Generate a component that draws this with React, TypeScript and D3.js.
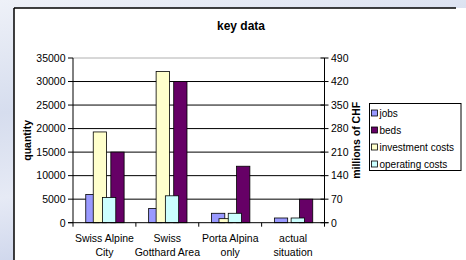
import React from 'react'
import * as d3 from 'd3'

const categories = [['Swiss Alpine', 'City'], ['Swiss', 'Gotthard Area'], ['Porta Alpina', 'only'], ['actual', 'situation']]
const jobs = [6000, 3000, 2000, 1000]
const beds = [15000, 30000, 12000, 5000]
const investmentCosts = [270, 450, 12, 0]
const operatingCosts = [75, 80, 28, 14]
const leftTicks = [0, 5000, 10000, 15000, 20000, 25000, 30000, 35000]
const rightTicks = [0, 70, 140, 210, 280, 350, 420, 490]

const W = 466
const H = 260
const font = '"Liberation Sans", Arial, sans-serif'

const App: React.FC = () => {
  const plot = { left: 73, right: 324.5, top: 58, bottom: 222.7 }
  const keys = categories.map(c => c.join(' '))

  const x = d3.scaleBand().domain(keys).range([plot.left, plot.right]).padding(0)
  const yL = d3.scaleLinear().domain([0, 35000]).range([plot.bottom, plot.top])
  const yR = d3.scaleLinear().domain([0, 490]).range([plot.bottom, plot.top])
  const bw = x.bandwidth()

  // offsets inside a category, as fractions of the band
  const primary = d3.scaleBand().domain(['jobs', 'beds']).range([bw * 0.203, bw * 0.813]).paddingInner(0.47)
  const barW = primary.bandwidth()
  const secOffset = { investment: bw * 0.322, operating: bw * 0.469 }

  const series = [
    { name: 'jobs', color: '#9999FF' },
    { name: 'beds', color: '#660066' },
    { name: 'investment costs', color: '#FFFFCC' },
    { name: 'operating costs', color: '#CCFFFF' },
  ]

  return (
    <svg width={W} height={H} style={{ position: 'absolute', left: 0, top: 0 }} fontFamily={font}>
      <defs>
        <linearGradient id="bg" x1="0" y1="0" x2="0.3" y2="1">
          <stop offset="0" stopColor="#eef1f8" />
          <stop offset="0.4" stopColor="#d6ddee" />
          <stop offset="0.7" stopColor="#e6eaf5" />
          <stop offset="1" stopColor="#c9d2ea" />
        </linearGradient>
      </defs>
      <rect x={0} y={0} width={W} height={H} fill="url(#bg)" />
      <rect x={14} y={8} width={W - 14} height={H - 8} fill="#fff" />
      <line x1={14} y1={8} x2={456} y2={8} stroke="#000" strokeWidth={1.5} />
      <line x1={14} y1={8} x2={14} y2={H} stroke="#000" strokeWidth={1.5} />

      <text x={241} y={30} textAnchor="middle" fontSize={12} fontWeight="bold">key data</text>

      {leftTicks.slice(1).map(t => (
        <line key={t} x1={plot.left} x2={plot.right} y1={yL(t)} y2={yL(t)}
          stroke={t === 35000 ? '#b0b0b0' : '#000'} strokeWidth={1} />
      ))}

      {/* primary axis bars */}
      {keys.map((k, i) => (
        <g key={k}>
          <rect x={(x(k) as number) + (primary('jobs') as number)} y={yL(jobs[i])} width={barW}
            height={plot.bottom - yL(jobs[i])} fill={series[0].color} stroke="#000" strokeWidth={0.8} />
          <rect x={(x(k) as number) + (primary('beds') as number)} y={yL(beds[i])} width={barW}
            height={plot.bottom - yL(beds[i])} fill={series[1].color} stroke="#000" strokeWidth={0.8} />
        </g>
      ))}
      {/* secondary axis bars */}
      {keys.map((k, i) => (
        <g key={k + 's'}>
          {investmentCosts[i] > 0 && (
            <rect x={(x(k) as number) + secOffset.investment} y={yR(investmentCosts[i])} width={barW}
              height={plot.bottom - yR(investmentCosts[i])} fill={series[2].color} stroke="#000" strokeWidth={0.8} />
          )}
          <rect x={(x(k) as number) + secOffset.operating} y={yR(operatingCosts[i])} width={barW}
            height={plot.bottom - yR(operatingCosts[i])} fill={series[3].color} stroke="#000" strokeWidth={0.8} />
        </g>
      ))}

      {/* axes */}
      <line x1={plot.left} x2={plot.left} y1={plot.top} y2={plot.bottom} stroke="#000" />
      <line x1={plot.right} x2={plot.right} y1={plot.top} y2={plot.bottom} stroke="#000" />
      <line x1={plot.left - 5} x2={plot.right + 4} y1={plot.bottom} y2={plot.bottom} stroke="#000" />
      {leftTicks.map(t => (
        <g key={'l' + t}>
          <line x1={plot.left - 5} x2={plot.left} y1={yL(t)} y2={yL(t)} stroke="#000" />
          <text x={65.5} y={yL(t) + 3.8} textAnchor="end" fontSize={10.5}>{t}</text>
        </g>
      ))}
      {rightTicks.map(t => (
        <g key={'r' + t}>
          <line x1={plot.right - 4} x2={plot.right + 4} y1={yR(t)} y2={yR(t)} stroke="#000" />
          <text x={331} y={yR(t) + 3.8} fontSize={10.5}>{t}</text>
        </g>
      ))}
      {[...keys.map(k => x(k) as number), plot.right].map((px, i) => (
        <line key={'x' + i} x1={px} x2={px} y1={plot.bottom} y2={plot.bottom + 4} stroke="#000" />
      ))}
      {categories.map((c, i) => (
        <text key={'c' + i} x={(x(keys[i]) as number) + bw / 2} textAnchor="middle" fontSize={10.5}>
          <tspan x={(x(keys[i]) as number) + bw / 2} y={241.5}>{c[0]}</tspan>
          <tspan x={(x(keys[i]) as number) + bw / 2} y={255.5}>{c[1]}</tspan>
        </text>
      ))}

      <text transform={`translate(31,${(plot.top + plot.bottom) / 2}) rotate(-90)`} textAnchor="middle"
        fontSize={10.5} fontWeight="bold">quantity</text>
      <text transform={`translate(360,${(plot.top + plot.bottom) / 2}) rotate(-90)`} textAnchor="middle"
        fontSize={10.5} fontWeight="bold">millions of CHF</text>

      {/* legend */}
      <rect x={369.5} y={103.5} width={91.5} height={67} fill="#fff" stroke="#000" strokeWidth={1} />
      {series.map((s, i) => (
        <g key={s.name} transform={`translate(371,${113 + i * 17})`}>
          <rect x={0.5} y={-3} width={6} height={6} fill={s.color} stroke="#000" strokeWidth={0.8} />
          <text x={8.5} y={3.6} fontSize={10}>{s.name}</text>
        </g>
      ))}
    </svg>
  )
}

export default App
